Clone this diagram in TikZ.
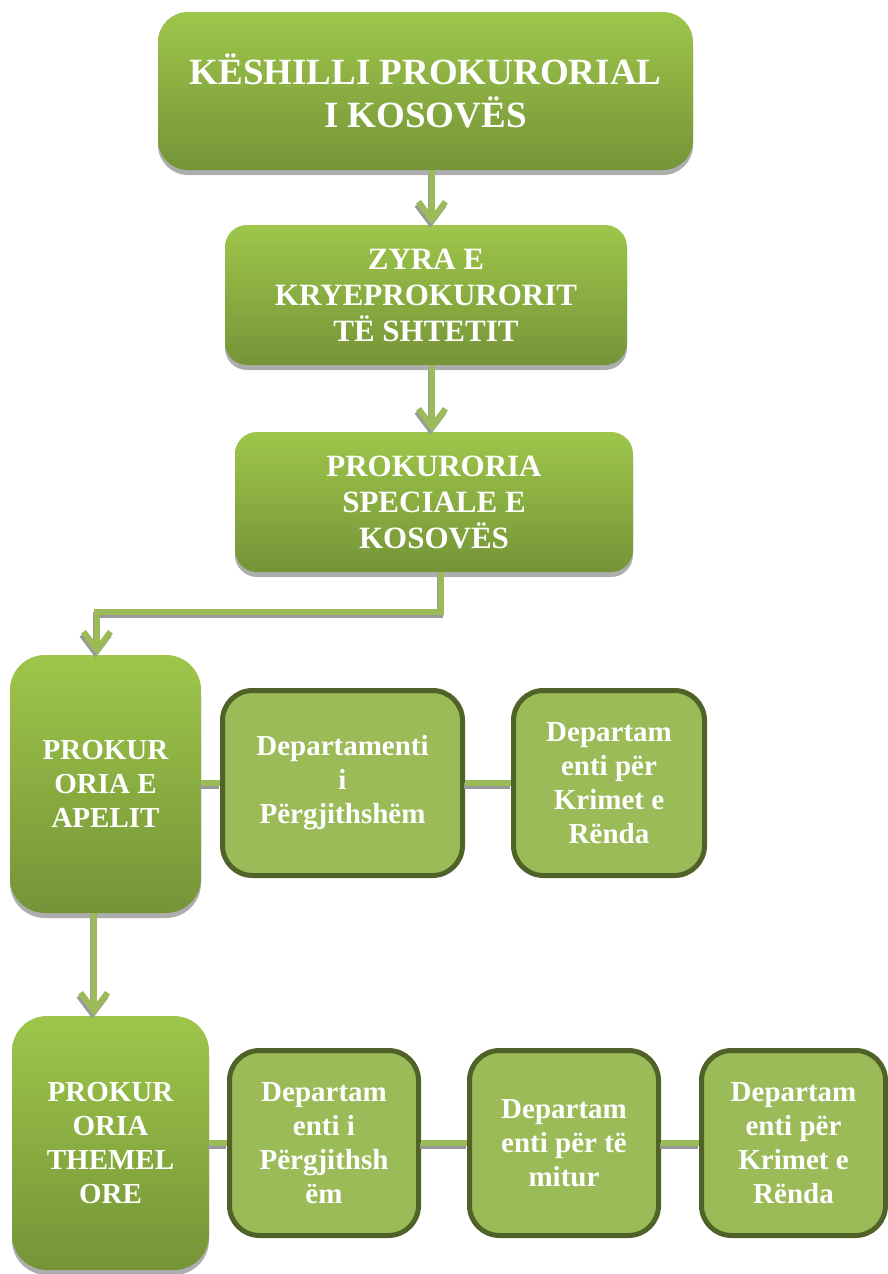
\documentclass[tikz,border=0pt]{standalone}
\usepackage{fontspec}
\setmainfont{Liberation Serif}
\usetikzlibrary{arrows.meta,shadows,calc}
\definecolor{gtop}{RGB}{158,198,74}
\definecolor{gbot}{RGB}{117,148,56}
\definecolor{dfill}{RGB}{155,187,89}
\definecolor{ddraw}{RGB}{79,98,40}
\definecolor{connc}{RGB}{155,187,89}
\begin{document}
\begin{tikzpicture}[x=1pt,y=-1pt,
  bigbox/.style={rounded corners=#1, top color=gtop, bottom color=gbot, draw=none,
    text=white, align=center, inner sep=0pt,
    drop shadow={shadow xshift=0pt,shadow yshift=-5pt,fill=black!40,opacity=0.8}},
  deptbox/.style={rounded corners=30pt, fill=dfill, draw=ddraw, line width=5pt,
    text=white, align=center, inner sep=0pt, minimum height=185pt},
  fA/.style={font=\bfseries\fontsize{37}{43}\selectfont},
  fB/.style={font=\bfseries\fontsize{31}{36}\selectfont},
  fC/.style={font=\bfseries\fontsize{29}{34}\selectfont},
  conn/.style={draw=connc, line width=6pt},
  connshd/.style={draw=black!40, line width=6pt, transform canvas={shift={(-1.5pt,-3pt)}}},
  tip/.style={-{Straight Barb[length=18pt,width=27pt]}}
]
\useasboundingbox (0,0) rectangle (888,1274);

% main boxes
\node[bigbox=30pt, fA, minimum width=535pt, minimum height=158pt] (b1) at (425.5,91) {KËSHILLI PROKURORIAL\\I KOSOVËS};
\node[bigbox=22pt, fB, minimum width=402pt, minimum height=140pt] (b2) at (426,295) {ZYRA E\\KRYEPROKURORIT\\TË SHTETIT};
\node[bigbox=22pt, fB, minimum width=398pt, minimum height=140pt] (b3) at (434,502) {PROKURORIA\\SPECIALE E\\KOSOVËS};
\node[bigbox=35pt, fC, minimum width=191pt, minimum height=258pt] (b4) at (105.5,784) {PROKUR\\ORIA E\\APELIT};
\node[bigbox=35pt, fC, minimum width=197pt, minimum height=254pt] (b7) at (110.5,1143) {PROKUR\\ORIA\\THEMEL\\ORE};

% department boxes
\node[deptbox, fC, minimum width=240pt] (b5) at (342.5,783) {Departamenti\\i\\Përgjithshëm};
\node[deptbox, fC, minimum width=191pt] (b6) at (609,783) {Departam\\enti për\\Krimet e\\Rënda};
\node[deptbox, fC, minimum width=189pt] (b8) at (324,1143) {Departam\\enti i\\Përgjithsh\\ëm};
\node[deptbox, fC, minimum width=189pt] (b9) at (564,1143) {Departam\\enti për të\\mitur};
\node[deptbox, fC, minimum width=184pt] (b10) at (793.5,1143) {Departam\\enti për\\Krimet e\\Rënda};

% vertical arrows
\coordinate (a1) at ([xshift=6.5pt]b1.south);
\coordinate (a2) at ([xshift=6pt]b2.south);
\coordinate (a3) at ([xshift=7pt]b3.south);
\coordinate (a4) at ([xshift=-11.5pt]b4.south);
\foreach \s in {connshd,conn}{
  \draw[\s, tip] (a1) -- (a1 |- b2.north);
  \draw[\s, tip] (a2) -- (a2 |- b3.north);
  \draw[\s, tip] (a3) -- ++(0,40) -| ([xshift=-8.5pt]b4.north);
  \draw[\s, tip] (a4) -- (a4 |- b7.north);
  % horizontal links
  \draw[\s] (b5.west -| b4.east) -- (b5.west);
  \draw[\s] (b5.east) -- (b6.west);
  \draw[\s] (b8.west -| b7.east) -- (b8.west);
  \draw[\s] (b8.east) -- (b9.west);
  \draw[\s] (b9.east) -- (b10.west);
}
\end{tikzpicture}
\end{document}
